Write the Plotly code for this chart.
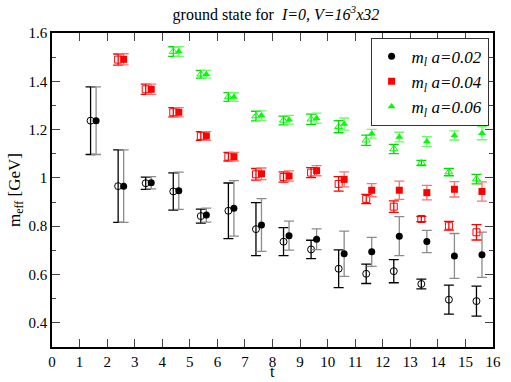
import plotly.graph_objects as go

# time slices (points are drawn slightly shifted left/right of t)
t_black = [1.5, 2.5, 3.5, 4.5, 5.5, 6.5, 7.5, 8.5, 9.5, 10.5, 11.5, 12.5, 13.5, 14.5, 15.5]
t_red = t_black[1:]
t_green = t_black[3:]

# m_l a = 0.02
black_fill = [1.237, 0.966, 0.980, 0.947, 0.846, 0.874, 0.805, 0.761, 0.746, 0.686, 0.694, 0.759, 0.737, 0.677, 0.682]
black_fill_err = [0.14, 0.15, 0.025, 0.077, 0.029, 0.115, 0.109, 0.06, 0.043, 0.094, 0.06, 0.081, 0.046, 0.093, 0.094]
black_open = [1.237, 0.966, 0.978, 0.944, 0.842, 0.864, 0.788, 0.736, 0.704, 0.624, 0.603, 0.614, 0.561, 0.496, 0.490]
black_open_err = [0.14, 0.15, 0.025, 0.077, 0.029, 0.115, 0.11, 0.058, 0.038, 0.078, 0.04, 0.048, 0.02, 0.06, 0.062]

# m_l a = 0.04
red_fill = [1.491, 1.367, 1.272, 1.174, 1.088, 1.017, 1.008, 1.030, 0.994, 0.949, 0.949, 0.939, 0.953, 0.944]
red_fill_err = [0.023, 0.021, 0.019, 0.018, 0.018, 0.024, 0.021, 0.021, 0.031, 0.027, 0.038, 0.03, 0.032, 0.04]
red_open = [1.490, 1.367, 1.272, 1.174, 1.088, 1.015, 1.004, 1.022, 0.975, 0.913, 0.881, 0.830, 0.802, 0.775]
red_open_err = [0.023, 0.021, 0.019, 0.018, 0.018, 0.024, 0.021, 0.021, 0.03, 0.019, 0.024, 0.011, 0.018, 0.032]

# m_l a = 0.06
green_fill = [1.523, 1.429, 1.335, 1.258, 1.241, 1.247, 1.223, 1.183, 1.169, 1.151, 1.176, 1.185]
green_fill_err = [0.02, 0.016, 0.018, 0.02, 0.018, 0.021, 0.025, 0.018, 0.02, 0.02, 0.019, 0.027]
green_open = [1.523, 1.429, 1.335, 1.256, 1.238, 1.243, 1.212, 1.156, 1.120, 1.062, 1.024, 0.995]
green_open_err = [0.02, 0.016, 0.018, 0.02, 0.018, 0.021, 0.025, 0.021, 0.019, 0.011, 0.015, 0.02]

FONT = "Liberation Serif, Times New Roman, serif"
shift = 0.1

series = [
    (t_black, black_open, black_open_err, black_fill, black_fill_err, "black", "black", "#8c8c8c", "circle", "0.02"),
    (t_red, red_open, red_open_err, red_fill, red_fill_err, "red", "red", "#ff7070", "square", "0.04"),
    (t_green, green_open, green_open_err, green_fill, green_fill_err, "#00ff00", "#00dd00", "#66ff66", "triangle-up", "0.06"),
]

fig = go.Figure()
for t, yo, eo, yf, ef, col, ecol_open, ecol_fill, sym, lab in series:
    fig.add_trace(go.Scatter(
        x=[v - shift for v in t], y=yo, mode="markers", showlegend=False,
        marker=dict(symbol=sym + "-open", size=7, color=col, line=dict(width=1, color=col)),
        error_y=dict(type="data", array=eo, color=ecol_open, thickness=1.3, width=5),
    ))
    fig.add_trace(go.Scatter(
        x=[v + shift for v in t], y=yf, mode="markers",
        name=f"<i>m</i><sub><i>l</i></sub><i> a=%s</i>" % lab,
        marker=dict(symbol=sym, size=7, color=col),
        error_y=dict(type="data", array=ef, color=ecol_fill, thickness=1.3, width=5),
    ))

fig.update_layout(
    width=511, height=382,
    margin=dict(l=52, r=10, t=33, b=35),
    plot_bgcolor="white", paper_bgcolor="white",
    font=dict(family=FONT, size=16, color="black"),
    title=dict(text="ground state for  <i>I=0, V=16<sup>3</sup>x32</i>",
               x=0.54, xanchor="center", y=0.962, yanchor="middle",
               font=dict(family=FONT, size=16)),
    legend=dict(x=0.99, y=0.985, xanchor="right", yanchor="top",
                bordercolor="#333", borderwidth=1, bgcolor="white",
                font=dict(family=FONT, size=17), tracegroupgap=0, itemsizing="trace",
                itemwidth=30),
    xaxis=dict(range=[0, 16], dtick=1, tick0=0, ticks="inside", ticklen=8,
               showline=True, linecolor="black", linewidth=1.5, mirror="ticks",
               showgrid=False, zeroline=False, tickfont=dict(family=FONT, size=15)),
    yaxis=dict(range=[0.3, 1.6], dtick=0.2, tick0=0.4, ticks="inside", ticklen=8,
               showline=True, linecolor="black", linewidth=1.5, mirror="ticks",
               showgrid=False, zeroline=False, tickfont=dict(family=FONT, size=15),
               minor=dict(ticks="inside", dtick=0.1, ticklen=4, showgrid=False),
               title=dict(text="m<sub>eff</sub> [GeV]", standoff=4,
                          font=dict(family=FONT, size=17))),
    annotations=[dict(text="t", xref="paper", yref="paper", x=0.5, y=-0.111,
                      xanchor="center", yanchor="bottom", showarrow=False,
                      font=dict(family=FONT, size=16))],
)

# drop the browser's default body margin so the figure sits at the page corner
fig.write_html("out.html", config={"displayModeBar": False},
               post_script="document.body.style.margin='0';")
